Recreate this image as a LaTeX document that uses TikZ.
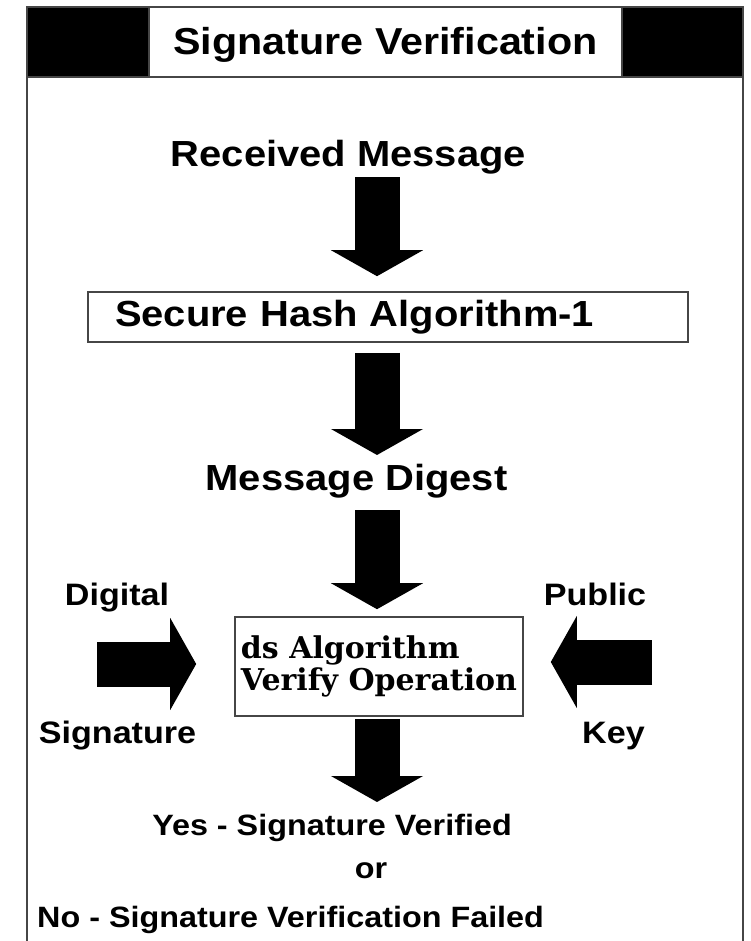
\documentclass[tikz,border=0pt]{standalone}
\usepackage{fontspec}
\usepackage{tikz}
\usetikzlibrary{arrows.meta}
\newfontfamily\labelfont[FakeStretch=1.1]{Liberation Sans}
\newfontfamily\boxfont{DejaVu Serif}
\definecolor{framegray}{RGB}{70,70,70}
\newcommand{\shaftwidth}{45pt}
\newcommand{\headwidth}{91pt}
\newcommand{\headlength}{26pt}
\tikzset{
    common/.style={inner sep=0pt},
    heading/.style={common, font=\labelfont\bfseries\fontsize{37.5}{40}\selectfont},
    bigtext/.style={common, anchor=base, font=\labelfont\bfseries\fontsize{36.3}{40}\selectfont},
    sidetext/.style={common, anchor=base, font=\labelfont\bfseries\fontsize{31}{34}\selectfont},
    resulttext/.style={common, anchor=base, font=\labelfont\bfseries\fontsize{29.4}{32}\selectfont},
    stepbox/.style={draw=framegray, line width=1.6pt, fill=white},
    framing/.style={framegray, line width=1.6pt},
    fat/.style={line width=\shaftwidth, -{Triangle[width=\headwidth, length=\headlength]}}
}

\begin{document}
\begin{tikzpicture}[x=1pt, y=-1pt]
    \useasboundingbox (0,0) rectangle (751,941);
    % frame and heading
    \fill (27,7) rectangle (149,77);
    \fill (622,7) rectangle (743,77);
    \draw[framing] (27,941) -- (27,7) -- (743,7) -- (743,941);
    \draw[framing] (27,77) -- (743,77);
    \node[heading, stepbox, minimum width=473pt, minimum height=70pt, text height=28pt, text depth=2pt] (title) at (385.5,42) {Signature Verification};

    \coordinate (axis) at (377,0);
    \node[bigtext] (msg) at (348.5,167) {Received Message};
    \node[stepbox, font=\labelfont\bfseries\fontsize{36.3}{40}\selectfont, text width=546pt, align=left,
          inner xsep=27pt, inner ysep=0pt, minimum height=50pt] (sha) at (388,317) {Secure Hash Algorithm-1};
    \node[bigtext] (digest) at (356.5,490) {Message Digest};
    \node[stepbox, font=\boxfont\bfseries\fontsize{30}{32}\selectfont, align=left, inner sep=0pt,
          minimum width=288pt, minimum height=99pt] (verify) at (379,666.5) {ds Algorithm\\Verify Operation};

    \node[sidetext] (digital) at (117,605) {Digital};
    \node[sidetext] (signature) at (117.5,743) {Signature};
    \node[sidetext] (public) at (595,605) {Public};
    \node[sidetext] (key) at (613.5,743) {Key};

    \node[resulttext] (yes) at (332,835) {Yes - Signature Verified};
    \node[resulttext] (or) at (371,878) {or};
    \node[resulttext, anchor=base west] (no) at (37,927) {No - Signature Verification Failed};

    \coordinate (dsin) at (97,664);
    \coordinate (pkin) at (652,662);

    \draw[fat, shorten <=2.4pt, shorten >=15pt] (msg.south -| axis) -- (sha.north -| axis);
    \draw[fat, shorten <=10pt, shorten >=8.5pt] (sha.south -| axis) -- (digest.north -| axis);
    \draw[fat, shorten <=12.4pt, shorten >=7pt] (digest.south -| axis) -- (verify.north -| axis);
    \draw[fat, shorten <=2pt, shorten >=11.5pt] (verify.south -| axis) -- (yes.north -| axis);
    \draw[fat, shorten >=38pt] (dsin) -- (dsin -| verify.west);
    \draw[fat, shorten >=27pt] (pkin) -- (pkin -| verify.east);
\end{tikzpicture}
\end{document}
